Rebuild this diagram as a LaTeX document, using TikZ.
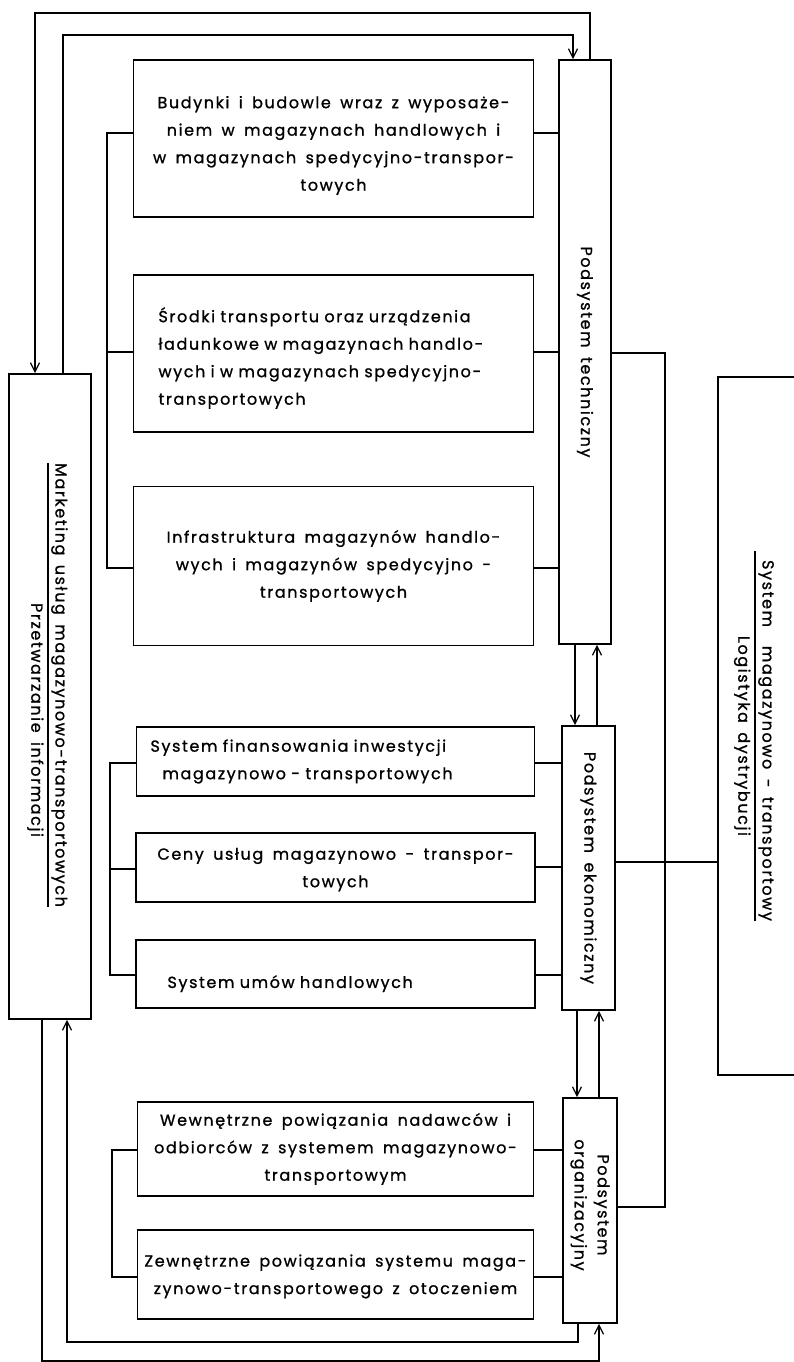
\documentclass[tikz,border=0pt]{standalone}
\usepackage{fontspec}
\setmainfont{Poppins}[LetterSpace=10, WordSpace=1.6, FakeBold=1]
\usetikzlibrary{arrows.meta}
\newcommand\bx{\fontsize{16}{27.5}\selectfont}
\newcommand\lbx{\fontsize{16}{23}\selectfont}
\setlength{\arrayrulewidth}{1.2pt}
\begin{document}
\begin{tikzpicture}[x=1pt,y=-1pt,
  box/.style={draw, line width=1.6pt, inner sep=0pt, font=\bx},
  ln/.style={line width=1.3pt},
  arr/.style={ln, -{Straight Barb[length=9pt,width=9pt,line width=1.3pt]}},
  vlbl/.style={rotate=-90, font=\lbx, inner sep=0pt}
]
\useasboundingbox[fill=white] (0,0) rectangle (794,1362);

% subsystem boxes
\node[box, minimum width=52pt, minimum height=584pt] (tech) at (585,352) {};
\node[vlbl] (techlbl) at (tech.center) {Podsystem techniczny};
\node[box, minimum width=53pt, minimum height=284pt] (econ) at (588.5,868) {};
\node[vlbl] (econlbl) at (econ.center) {Podsystem ekonomiczny};
\node[box, minimum width=54pt, minimum height=225pt] (org) at (590,1210.5) {};
\node[vlbl, align=center] (orglbl) at (590,1205) {Podsystem\\organizacyjny};

% left big box
\node[box, minimum width=82pt, minimum height=645pt] (mkt) at (50,696.5) {};
\node[vlbl] (mktlbl) at (48,685) {\begin{tabular}{@{}l@{}}Marketing usług magazynowo-transportowych\hspace{14pt}\\\hline\hspace{140pt}Przetwarzanie informacji\end{tabular}};

% right big box
\node[box, minimum width=90pt, minimum height=698pt] (sys) at (763,726) {};
\node[vlbl] (syslbl) at (755,736) {\begin{tabular}{@{}c@{}}\hspace{9pt}System\ \ magazynowo - transportowy\hspace{9pt}\\\hline Logistyka dystrybucji\hspace{28pt}\end{tabular}};

% technical elements
\node[box, minimum width=400pt, minimum height=157pt, align=center] (bud) at (333.5,138.5)
  {\rule{0pt}{26pt}Budynki i budowle wraz z wyposaże-\\niem w magazynach handlowych i\\w magazynach spedycyjno-transpor-\\towych};
\node[box, minimum width=400pt, minimum height=157pt, text width=350pt, align=left] (srod) at (333.5,353.5)
  {\rule{0pt}{24pt}Środki transportu oraz urządzenia\\ładunkowe w magazynach handlo-\\wych i w magazynach spedycyjno-\\transportowych};
\node[box, minimum width=400pt, minimum height=159pt, align=center] (infra) at (333.5,566)
  {Infrastruktura magazynów handlo-\\wych i magazynów spedycyjno -\\transportowych};

% economic elements
\node[box, minimum width=398pt, minimum height=69pt, text width=370pt, align=left] (fin) at (335.5,761.5)
  {System finansowania inwestycji\\\hspace*{12pt}magazynowo - transportowych};
\node[box, minimum width=399pt, minimum height=69pt, align=center] (ceny) at (335.5,867.5)
  {\rule{0pt}{16pt}Ceny usług magazynowo - transpor-\\towych};
\node[box, minimum width=399pt, minimum height=68pt, text width=336pt, align=left] (umow) at (335.5,974)
  {\rule{0pt}{32pt}System umów handlowych};

% organisational elements
\node[box, minimum width=396pt, minimum height=94pt, align=center] (wew) at (335.5,1149)
  {Wewnętrzne powiązania nadawców i\\odbiorców z systemem magazynowo-\\transportowym};
\node[box, minimum width=396pt, minimum height=89pt, align=center] (zew) at (335.5,1274.5)
  {\rule{0pt}{16pt}Zewnętrzne powiązania systemu maga-\\zynowo-transportowego z otoczeniem};

% brackets on the left
\draw[ln] (bud.west |- 0,133) -- (107,133) -- (107,568) -- (infra.west |- 0,568);
\draw[ln] (srod.west |- 0,352) -- (107,352);
\draw[ln] (fin.west |- 0,763) -- (110,763) -- (110,975) -- (umow.west |- 0,975);
\draw[ln] (ceny.west |- 0,869) -- (110,869);
\draw[ln] (wew.west |- 0,1150) -- (112,1150) -- (112,1277) -- (zew.west |- 0,1277);

% stubs on the right
\draw[ln] (bud.east |- 0,133) -- (tech.west |- 0,133);
\draw[ln] (srod.east |- 0,352) -- (tech.west |- 0,352);
\draw[ln] (infra.east |- 0,568) -- (tech.west |- 0,568);
\draw[ln] (fin.east |- 0,763) -- (econ.west |- 0,763);
\draw[ln] (ceny.east |- 0,867) -- (econ.west |- 0,867);
\draw[ln] (umow.east |- 0,975) -- (econ.west |- 0,975);
\draw[ln] (wew.east |- 0,1150) -- (org.west |- 0,1150);
\draw[ln] (zew.east |- 0,1277) -- (org.west |- 0,1277);

% links to the right
\draw[ln] (tech.east |- 0,353) -- (665,353) -- (665,1207) -- (org.east |- 0,1207);
\draw[ln] (econ.east |- 0,862) -- (sys.west |- 0,862);

% arrows between subsystems
\draw[arr] (tech.south -| 575,0) -- (econ.north -| 575,0);
\draw[arr] (econ.north -| 597,0) -- (tech.south -| 597,0);
\draw[arr] (econ.south -| 577,0) -- (org.north -| 577,0);
\draw[arr] (org.north -| 599,0) -- (econ.south -| 599,0);

% loops to the marketing box
\draw[arr] (tech.north -| 590,0) -- (590,13) -- (35,13) -- (mkt.north -| 35,0);
\draw[arr] (mkt.north -| 63,0) -- (63,35) -- (573,35) -- (tech.north -| 573,0);
\draw[arr] (org.south -| 578,0) -- (578,1342) -- (67,1342) -- (mkt.south -| 67,0);
\draw[arr] (mkt.south -| 42,0) -- (42,1361) -- (599,1361) -- (org.south -| 599,0);
\end{tikzpicture}
\end{document}
